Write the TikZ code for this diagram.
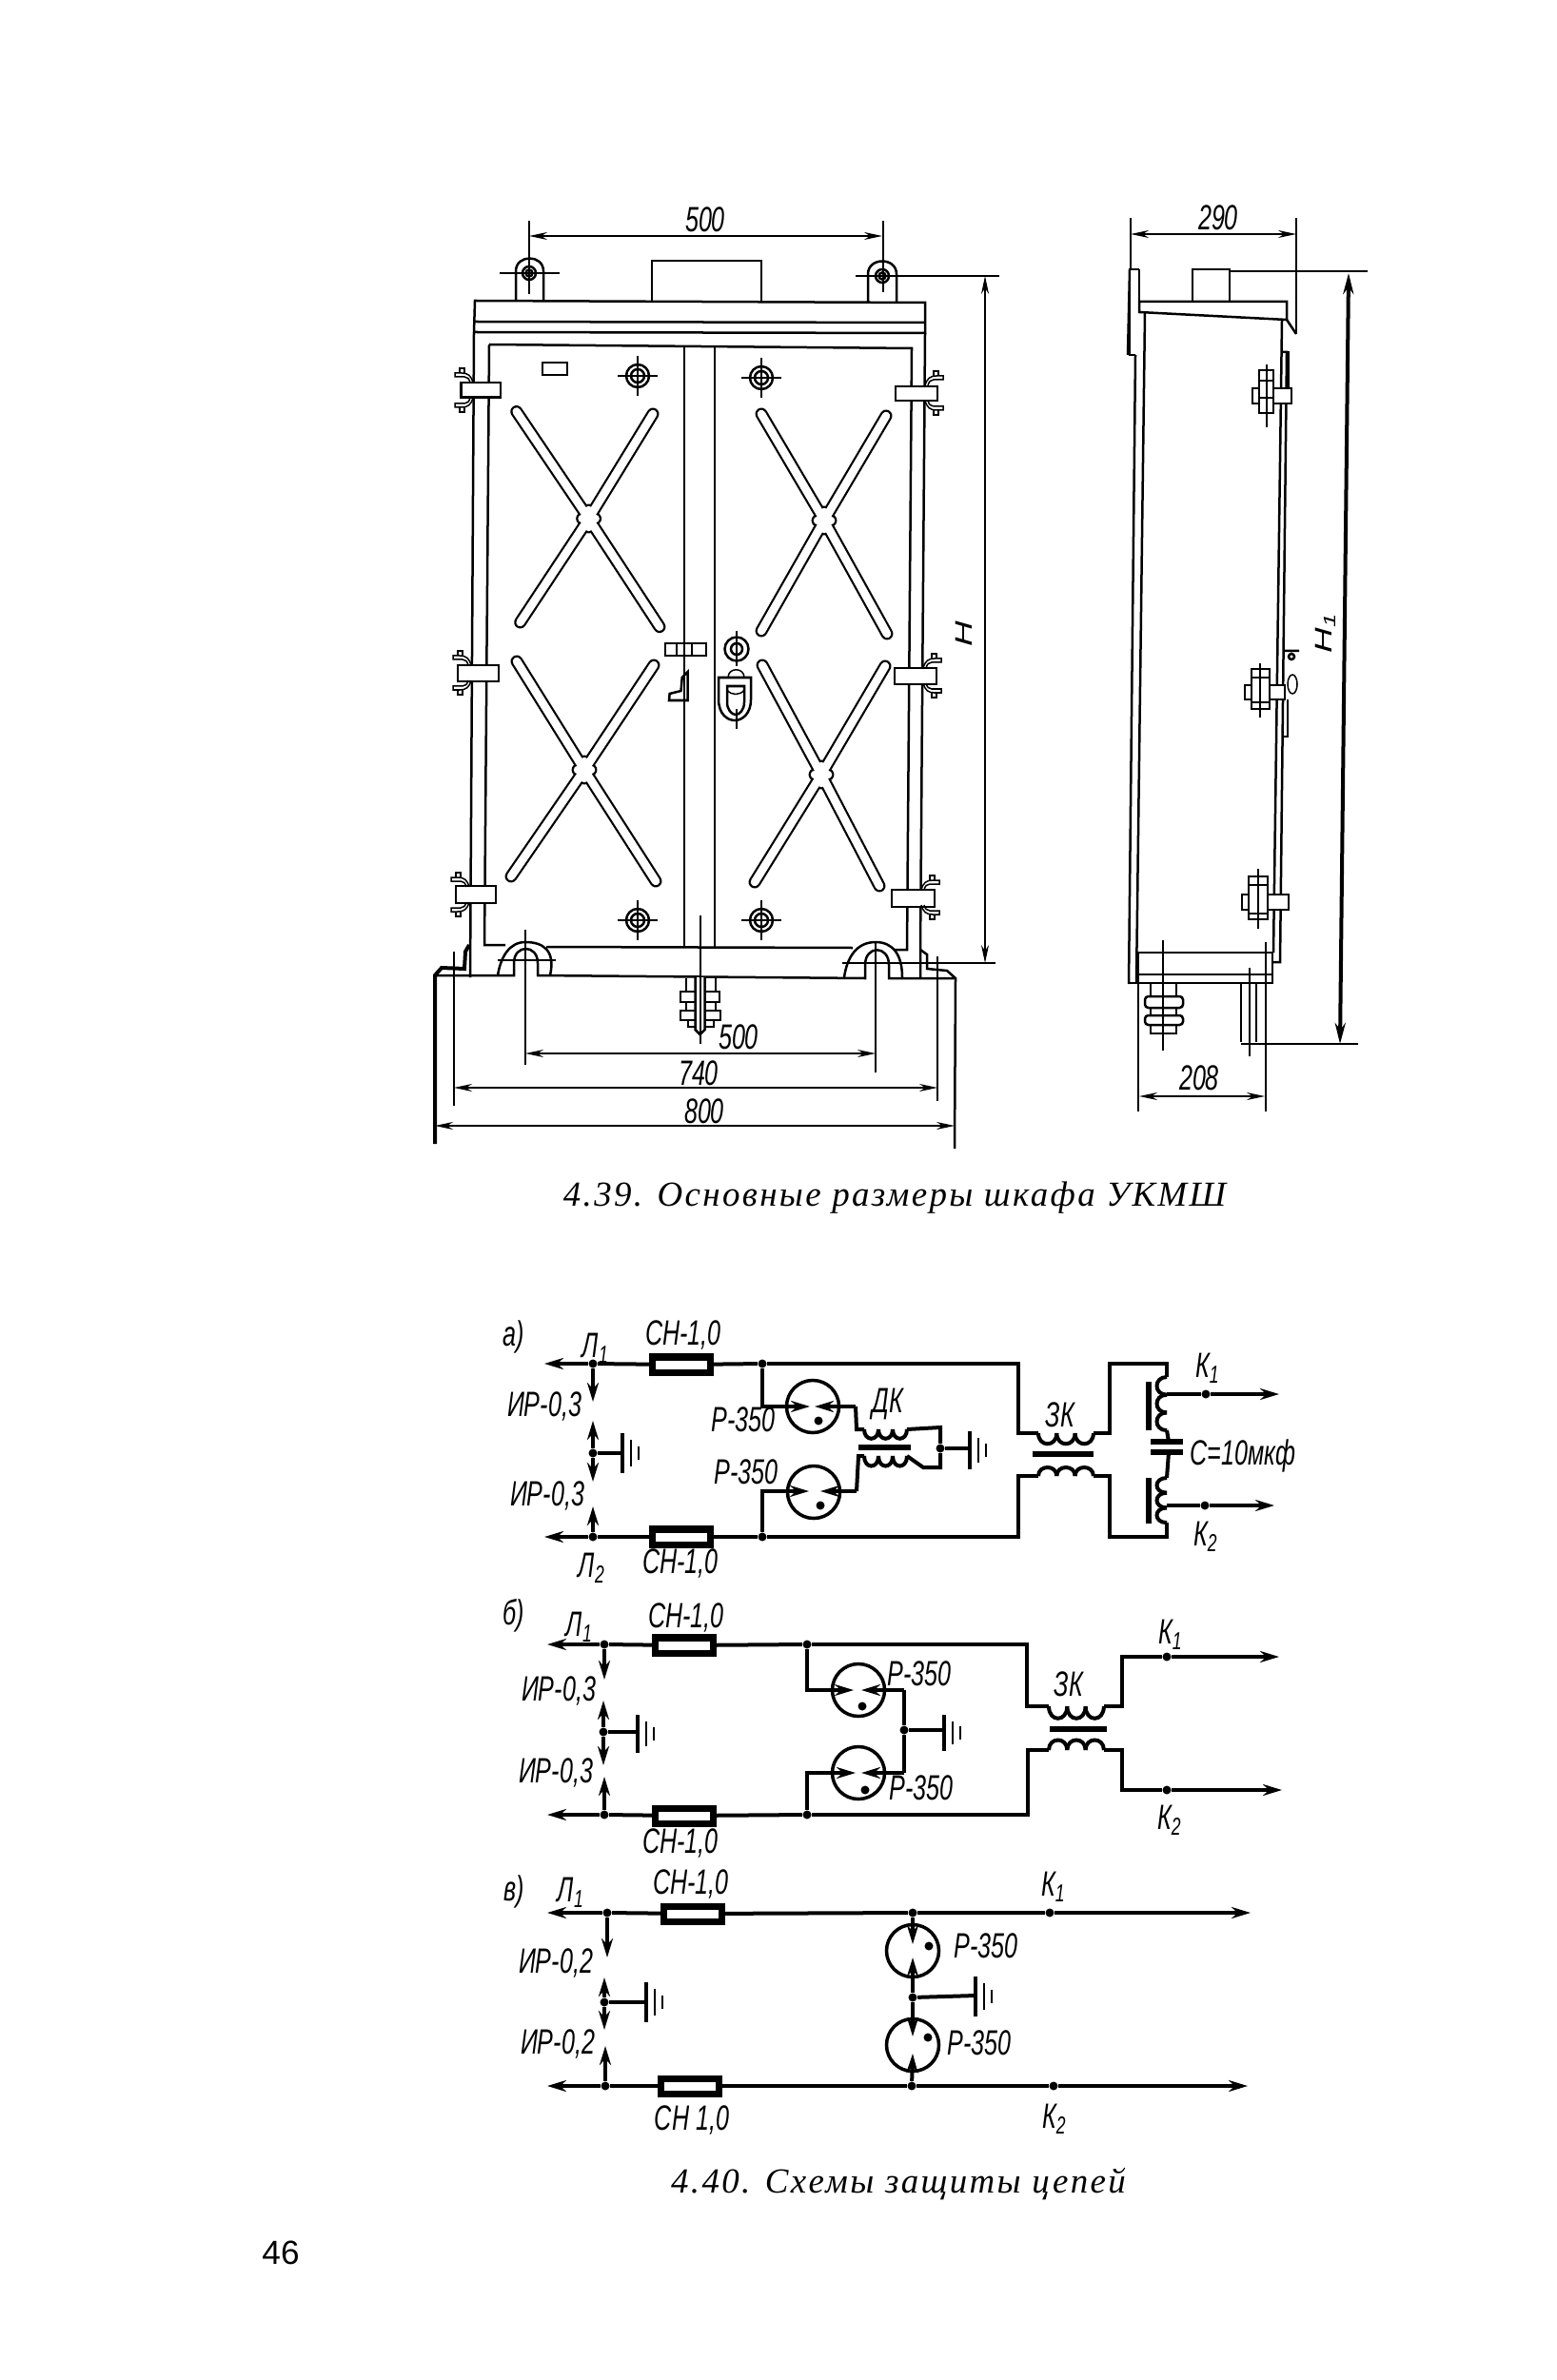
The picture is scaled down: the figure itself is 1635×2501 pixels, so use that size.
\documentclass[tikz,border=0pt]{standalone}
\usepackage{fontspec}
\setmainfont{Liberation Serif}
\setsansfont{Liberation Sans}
\newfontfamily\capfont[LetterSpace=6.4]{Liberation Serif}
\usetikzlibrary{arrows.meta}
\tikzset{
  body/.style={line width=.25mm},
  hair/.style={line width=.15mm},
  wire/.style={line width=.4mm},
  bar/.style={line width=.6mm},
  arrwire/.style={wire,-{Stealth[length=2mm,width=1.2mm]}},
  dimline/.style={hair,{Stealth[length=1.9mm,width=.8mm]}-{Stealth[length=1.9mm,width=.8mm]}},
  dot/.style={circle,fill,inner sep=0pt,minimum size=.9mm},
  fuse/.style={rectangle,draw,fill=white,line width=2pt,inner sep=0pt,minimum width=6.1mm,minimum height=1.6mm},
  arrest/.style={circle,draw,line width=.35mm,inner sep=0pt,minimum size=5.5mm},
  lbl/.style={font=\sffamily\itshape\fontsize{10.5}{12}\selectfont,xscale=.68,inner sep=0pt},
  captxt/.style={font=\capfont\itshape\fontsize{10.5}{13}\selectfont,inner sep=0pt},
}
% mounting bolt seen from the front
\newcommand{\target}[2]{
  \draw[body] (#1,#2) circle[radius=12] (#1,#2) circle[radius=7];
  \draw[hair] (#1-21,#2) -- (#1+21,#2) (#1,#2-21) -- (#1,#2+21);
}
% clamp and its two wing screws, #5 = side
\newcommand{\hinge}[7]{
  \draw[body,fill=white] (#1,#2) rectangle (#3,#4);
  \begin{scope}[shift={(#5,#6)},xscale=#7,hair]
  \foreach \s in {1,-1}{
    \draw (0,-8*\s) .. controls (-2,-15*\s) and (-5,-18*\s) .. (-12,-18*\s) -- (-19,-18*\s) -- (-19,-14*\s) -- (-9,-14*\s) .. controls (-6,-14*\s) and (-4,-12*\s) .. (-3,-8*\s);
    \draw (-14,-18*\s) -- (-14,-23*\s) -- (-9,-23*\s) -- (-9,-18*\s);
  }
  \end{scope}
}
% slotted cross on a door
\newcommand{\slotx}[5]{
  \draw[line width=.22mm,double=white,double distance=.85mm,line cap=round]
    (#1) -- (#2) (#1) -- (#3) (#1) -- (#4) (#1) -- (#5)
    ([xshift=-.7mm]#1) -- ([xshift=.7mm]#1) ([yshift=-.9mm]#1) -- ([yshift=.9mm]#1);
}
% earth symbol
\newcommand{\earth}[3]{
  \draw[wire] (#1,#2-#3) -- (#1,#2+#3);
  \draw[body] (#1+9,#2-.65*#3) -- (#1+9,#2+.65*#3);
  \draw[body] (#1+17,#2-.35*#3) -- (#1+17,#2+.35*#3);
}
% winding, three bumps
\newcommand{\coilh}[4]{
  \foreach \k in {0,1,2}
    \draw[wire] (#1+\k*#3,#2) .. controls (#1+\k*#3,#2+#4) and (#1+\k*#3+#3,#2+#4) .. (#1+\k*#3+#3,#2);
}
\newcommand{\coilv}[4]{
  \foreach \k in {0,1,2}
    \draw[wire] (#1,#2+\k*#3) .. controls (#1-#4,#2+\k*#3) and (#1-#4,#2+\k*#3+#3) .. (#1,#2+\k*#3+#3);
}
\begin{document}
\begin{tikzpicture}[x=.01cm,y=-.01cm]
\useasboundingbox (0,0) rectangle (1635,2501);
% cabinet, front
\draw[body] (499,316) -- (972,318) -- (972,350) -- (498,349) -- cycle;
\draw[body] (498,338) -- (972,339);
\draw[body] (498,350) -- (494,1027);
\draw[body] (972,350) -- (967,998) -- (967,1027);
\draw[body] (514,362) -- (958,366) -- (953,998) -- (940,998);
\draw[body] (514,362) -- (509,993) -- (531,993);
\draw[body] (574,995) -- (896,996);
\draw[body] (719,365) -- (719,996);
\draw[body] (751,365) -- (751,996);
\draw[body] (542,317) -- (542,285) .. controls (542,267) and (571,267) .. (571,285) -- (571,317);
\draw[body] (912,317) -- (912,288) .. controls (912,270) and (942,270) .. (942,288) -- (942,317);
\draw[body] (556,287) circle[radius=7] (556,287) circle[radius=3.5];
\draw[body] (927,290) circle[radius=7] (927,290) circle[radius=3.5];
\draw[hair] (525,287) -- (588,287);
\draw[body] (685,317) -- (685,274) -- (800,274) -- (800,317);
\draw[body] (570,381) rectangle (596,394);
\target{670}{395}
\target{800}{397}
\target{670}{967}
\target{800}{967}
\coordinate (xa) at (618.6,545);
\coordinate (xb) at (866,547);
\coordinate (xc) at (614,809);
\coordinate (xd) at (863,814);
\slotx{xa}{542.7,432.5}{686,435}{546.6,654}{693,658.7}
\slotx{xb}{800,435}{931,437}{800,663}{932,666}
\slotx{xc}{543,695}{687,699}{537,921}{689,926}
\slotx{xd}{801,699}{930,700}{793,927}{924,931}
\hinge{484.5}{402}{526}{417.5}{497}{410}{1}
\hinge{481}{699}{524}{716}{495}{707}{1}
\hinge{479}{931}{521}{949}{493}{940}{1}
\hinge{941}{406}{985}{421}{972}{413}{-1}
\hinge{940}{702}{984}{719}{970}{710}{-1}
\hinge{937}{935}{982}{953}{968}{943}{-1}
% latch and lock
\draw[body,fill=white] (699,676) rectangle (742,689);
\draw[body] (711,676) -- (711,689) (727,676) -- (727,689) (719,676) -- (719,689);
\draw[body] (722.6,706) -- (716.7,712) -- (715.5,726) -- (703.6,729) -- (703,736) -- (722.6,736) -- cycle;
\draw[body] (774,682) circle[radius=12.5] (774,682) circle[radius=6];
\draw[hair] (774,663) -- (774,700) (774,745) -- (774,766);
\draw[body] (755,712) -- (789,712) -- (789,735) .. controls (789,750) and (780,757) .. (772,757) .. controls (764,757) and (755,750) .. (755,735) -- cycle;
\draw[body] (764,721) -- (782,721) -- (782,738) .. controls (782,746) and (777,751) .. (773,751) .. controls (769,751) and (764,746) .. (764,738) -- cycle;
\draw[hair] (765,712) .. controls (765,701) and (782,701) .. (782,712);
\draw[hair] (764,725) .. controls (768,731) and (778,731) .. (782,725);
% base with lifting feet
\draw[wire] (457,1202) -- (457,1025) -- (464,1017) -- (488,1018) -- (489,1000) -- (493,993);
\draw[body] (457,1025) -- (540,1025) -- (540,1012) .. controls (540,992) and (565,992) .. (565,1012) -- (565,1025) -- (909,1028) -- (909,1014) .. controls (909,993) and (934,993) .. (934,1014) -- (934,1028) -- (1004,1028);
\draw[body] (523,1025) .. controls (526,1006) and (535,990) .. (552,990) .. controls (570,990) and (584,998) .. (578,1025);
\draw[body] (887,1027) .. controls (890,1006) and (900,990) .. (920,990) .. controls (938,990) and (948,1003) .. (948,1027);
\draw[body] (967,998) -- (974,1003) -- (974,1018) -- (995,1020) -- (1004,1028) -- (1003,1207);
\draw[hair] (523,1009) -- (584,1009);
\draw[body] (721,1028) -- (721,1042) (752,1028) -- (752,1042) (721,1053) -- (721,1062) (752,1053) -- (752,1062);
\draw[body] (723,1072) -- (723,1079) -- (750,1079) -- (750,1072);
\draw[body,fill=white] (715,1042) rectangle (756,1053);
\draw[body,fill=white] (715,1062) rectangle (757,1072);
\draw[body,fill=white] (730.5,1027) -- (730.5,1082) -- (735.5,1087) -- (740.5,1082) -- (740.5,1027);
\draw[hair] (736,962) -- (736,1097);
% dimensions, front
\coordinate (d1a) at (556,248);
\coordinate (d1b) at (927,248);
\draw[dimline] (d1a) -- (d1b);
\node[lbl] (t500a) at (741,231) {500};
\draw[hair] (556,232) -- (556,309) (928,232) -- (928,307);
\draw[hair] (899,290) -- (1050,290);
\coordinate (dha) at (1035,290);
\coordinate (dhb) at (1035,1012);
\draw[dimline] (dha) -- (dhb);
\draw[hair] (885,1012) -- (1046,1012);
\node[lbl,rotate=90] (th) at (1013,666) {H};
\draw[hair] (552,977) -- (552,1119) (920,990) -- (920,1127);
\draw[hair] (477,1000) -- (477,1162) (985,1005) -- (985,1157);
\coordinate (d2a) at (552,1107);
\coordinate (d2b) at (920,1107);
\draw[dimline] (d2a) -- (d2b);
\node[lbl] (t500b) at (776,1090) {500};
\coordinate (d3a) at (477,1143);
\coordinate (d3b) at (985,1143);
\draw[dimline] (d3a) -- (d3b);
\node[lbl] (t740) at (734,1128) {740};
\coordinate (d4a) at (457,1183);
\coordinate (d4b) at (1003,1183);
\draw[dimline] (d4a) -- (d4b);
\node[lbl] (t800) at (740,1168) {800};
% cabinet, side
\draw[body] (1197,283) -- (1187,283) -- (1187,373) -- (1193,373);
\draw[body] (1197,283) -- (1197,317);
\draw[body] (1187,283) -- (1185,373);
\draw[body] (1197,317) -- (1352,317) -- (1352,336) -- (1197,328) -- cycle;
\draw[body] (1352,336) -- (1362,351);
\draw[hair] (1362,229) -- (1362,351);
\draw[hair] (1188,229) -- (1188,283);
\draw[body] (1253,317) -- (1253,283) -- (1292,283) -- (1292,317);
\draw[hair] (1292,285) -- (1437,285);
\draw[body] (1193,373) -- (1186,1034);
\draw[body] (1203,328) -- (1194,1033);
\draw[body] (1185,1033) -- (1337,1033) -- (1337,1001);
\draw[hair] (1195,1001) -- (1337,1001) (1195,1024) -- (1337,1024);
\draw[body] (1337,1011) -- (1345,1011) -- (1352,370) -- (1347,370);
\draw[body] (1347,336) -- (1338,1001);
\draw[body] (1352,370) -- (1354,370) -- (1354,408);
\draw[body,fill=white] (1316,408) rectangle (1357,424);
\draw[body,fill=white] (1323,389) rectangle (1338,434);
\draw[hair] (1323,400) -- (1338,400) (1323,418) -- (1338,418) (1331,383) -- (1331,449);
\draw[body,fill=white] (1308,720) rectangle (1350,735);
\draw[body,fill=white] (1315,703) rectangle (1334,745);
\draw[hair] (1315,712) -- (1334,712) (1315,738) -- (1334,738) (1324,697) -- (1324,754);
\draw[body,fill=white] (1305,940) rectangle (1354,956);
\draw[body,fill=white] (1312,921) rectangle (1332,966);
\draw[hair] (1312,930) -- (1332,930) (1312,960) -- (1332,960) (1322,913) -- (1322,976);
\draw[body] (1350,684) -- (1365,684) (1357,690) circle[radius=3];
\draw[hair] (1358,719) ellipse[x radius=5,y radius=10];
\draw[body] (1353,735) -- (1353,774) -- (1349,774);
% bolt and leg, side
\draw[body] (1209,1033) -- (1209,1047) (1236,1033) -- (1236,1047);
\draw[body,rounded corners=1pt] (1203,1047) rectangle (1243,1059);
\draw[body] (1209,1059) -- (1209,1067) (1236,1059) -- (1236,1067);
\draw[body,rounded corners=1pt] (1203,1067) rectangle (1243,1077);
\draw[body] (1209,1077) -- (1209,1086) -- (1236,1086) -- (1236,1077);
\draw[hair] (1222,988) -- (1222,1104);
\draw[body] (1304,1033) -- (1304,1095) (1320,1033) -- (1320,1095);
\draw[hair] (1313,1017) -- (1313,1110);
\draw[body] (1330,990) -- (1330,1168);
\draw[body] (1196,1001) -- (1196,1168);
\coordinate (d5a) at (1197,1152);
\coordinate (d5b) at (1329,1152);
\draw[dimline] (d5a) -- (d5b);
\node[lbl] (t208) at (1260,1133) {208};
\coordinate (d6a) at (1188,246);
\coordinate (d6b) at (1362,246);
\draw[dimline] (d6a) -- (d6b);
\node[lbl] (t290) at (1280,229) {290};
\coordinate (d7a) at (1417,287);
\coordinate (d7b) at (1408,1097);
\draw[wire,{Stealth[length=2.2mm,width=1.1mm]}-{Stealth[length=2.2mm,width=1.1mm]}] (d7a) -- (d7b);
\draw[hair] (1304,1097) -- (1427,1097);
\node[lbl,rotate=90] (th1) at (1393,665) {H\textsubscript{1}};
\node[captxt] (c39) at (940,1259) {4.39. Основные размеры шкафа УКМШ};
% scheme a
\node[lbl] (ta) at (540,1405) {а)};
\node[fuse] (af1) at (716,1434) {};
\node[fuse] (af2) at (716,1615) {};
\node[dot] (aj1) at (623,1433) {};
\node[dot] (aj2) at (623,1615) {};
\node[dot] (aj3) at (623,1527) {};
\node[dot] (aj4) at (801,1433) {};
\node[dot] (aj5) at (801,1615) {};
\node[dot] (aj6) at (988,1522) {};
\node[arrest] (ar1) at (854,1478) {};
\node[arrest] (ar2) at (855,1568) {};
\node[dot] (ad1) at (860,1493) {};
\node[dot] (ad2) at (862,1582) {};
\node[dot] (ak1) at (1267,1465) {};
\node[dot] (ak2) at (1266,1582) {};
\coordinate (ae1) at (572,1433);
\coordinate (ae2) at (572,1615);
\coordinate (ae3) at (1344,1465);
\coordinate (ae4) at (1339,1582);
\draw[arrwire] (aj1) -- (ae1);
\draw[arrwire] (aj2) -- (ae2);
\draw[wire] (aj1) -- (af1);
\draw[wire] (aj2) -- (af2);
\draw[wire] (af1) -- (aj4);
\draw[wire] (af2) -- (aj5);
\coordinate (ar) at (623,1473);
\draw[arrwire] (aj1) -- (ar);
\coordinate (ar) at (623,1493);
\draw[arrwire] (aj3) -- (ar);
\coordinate (ar) at (623,1557);
\draw[arrwire] (aj3) -- (ar);
\coordinate (ar) at (623,1583);
\draw[arrwire] (aj2) -- (ar);
\coordinate (ag1) at (654,1527);
\draw[wire] (aj3) -- (ag1);
\earth{654}{1527}{21}
\coordinate (ap1) at (851,1478);
\coordinate (ap2) at (856,1478);
\coordinate (ap3) at (850,1567);
\coordinate (ap4) at (862,1567);
\draw[arrwire] (aj4) |- (ap1);
\draw[arrwire] (aj5) |- (ap3);
\coordinate (aw1) at (899,1478);
\coordinate (aw2) at (900,1567);
\draw[arrwire] (aw1) -- (ap2);
\draw[arrwire] (aw2) -- (ap4);
\coordinate (aw3) at (900,1502);
\coordinate (aw4) at (908,1502);
\coordinate (aw5) at (902,1530);
\coordinate (aw6) at (908,1530);
\draw[wire] (aw1) -- (aw3) -- (aw4);
\draw[wire] (aw2) -- (aw5) -- (aw6);
\coilh{908}{1502}{15}{13}
\coilh{908}{1530}{15}{14}
\draw[bar] (902,1521) -- (957,1521);
\coordinate (aw7) at (953,1502);
\coordinate (aw8) at (953,1530);
\draw[wire] (aw7) -- (988,1500) -- (aj6);
\draw[wire] (aw8) -- (970,1542) -- (988,1542) -- (aj6);
\coordinate (ag2) at (1019,1522);
\draw[wire] (aj6) -- (ag2);
\earth{1019}{1524}{20}
\coordinate (an1) at (1070,1433);
\coordinate (an2) at (1070,1506);
\coordinate (an3) at (1091,1506);
\coordinate (an4) at (1149,1506);
\coordinate (an5) at (1166,1506);
\coordinate (an6) at (1166,1433);
\coordinate (an7) at (1226,1433);
\coordinate (an8) at (1226,1447);
\draw[wire] (aj4) -- (an1) -- (an2) -- (an3);
\draw[wire] (an4) -- (an5) -- (an6) -- (an7) -- (an8);
\coilh{1091}{1506}{19.3}{15}
\draw[bar] (1085,1528) -- (1149,1528);
\coordinate (am1) at (1070,1551);
\coordinate (am2) at (1091,1551);
\coordinate (am3) at (1149,1551);
\coordinate (am4) at (1166,1551);
\coordinate (am5) at (1166,1615);
\coordinate (am6) at (1226,1615);
\coordinate (am7) at (1226,1600);
\draw[wire] (aj5) -- (1070,1615) -- (am1) -- (am2);
\draw[wire] (am3) -- (am4) -- (am5) -- (am6) -- (am7);
\coilh{1091}{1551}{19.3}{-12}
\coilv{1226}{1447}{18.7}{14}
\coilv{1226}{1553}{15.7}{14}
\draw[bar] (1207,1452) -- (1207,1503);
\draw[bar] (1207,1553) -- (1207,1601);
\draw[bar] (1209,1515) -- (1243,1515);
\draw[bar] (1209,1526) -- (1243,1526);
\coordinate (ao1) at (1226,1503);
\coordinate (ao2) at (1228,1515);
\coordinate (ao3) at (1228,1526);
\coordinate (ao4) at (1226,1553);
\coordinate (ao5) at (1226,1465);
\coordinate (ao6) at (1226,1582);
\draw[wire] (ao1) -- (ao2);
\draw[wire] (ao3) -- (ao4);
\draw[wire] (ao5) -- (ak1);
\draw[wire] (ao6) -- (ak2);
\draw[arrwire] (ak1) -- (ae3);
\draw[arrwire] (ak2) -- (ae4);
\node[lbl] (tal1) at (626,1417) {Л\textsubscript{1}};
\node[lbl] (tal2) at (622,1648) {Л\textsubscript{2}};
\node[lbl] (tacn1) at (718,1403) {СН-1,0};
\node[lbl] (tacn2) at (715,1643) {СН-1,0};
\node[lbl] (tair1) at (572,1478) {ИР-0,3};
\node[lbl] (tair2) at (575,1572) {ИР-0,3};
\node[lbl] (tar1) at (781,1492) {Р-350};
\node[lbl] (tar2) at (784,1547) {Р-350};
\node[lbl] (tadk) at (933,1475) {ДК};
\node[lbl] (tazk) at (1114,1487) {ЗК};
\node[lbl] (tak1) at (1269,1438) {К\textsubscript{1}};
\node[lbl] (tak2) at (1267,1615) {К\textsubscript{2}};
\node[lbl] (tac) at (1306,1530) {С=10мкф};
% scheme b
\node[lbl] (tb) at (540,1698) {б)};
\node[fuse] (bf1) at (719,1729) {};
\node[fuse] (bf2) at (719,1908) {};
\node[dot] (bj1) at (635,1728) {};
\node[dot] (bj2) at (635,1907) {};
\node[dot] (bj3) at (634,1820) {};
\node[dot] (bj4) at (848,1728) {};
\node[dot] (bj5) at (848,1907) {};
\node[dot] (bj6) at (950,1818) {};
\node[arrest] (br1) at (902,1776) {};
\node[arrest] (br2) at (902,1863) {};
\node[dot] (bd1) at (906,1793) {};
\node[dot] (bd2) at (909,1881) {};
\node[dot] (bk1) at (1226,1741) {};
\node[dot] (bk2) at (1226,1881) {};
\coordinate (be1) at (575,1728);
\coordinate (be2) at (575,1907);
\coordinate (be3) at (1344,1741);
\coordinate (be4) at (1347,1881);
\draw[arrwire] (bj1) -- (be1);
\draw[arrwire] (bj2) -- (be2);
\draw[wire] (bj1) -- (bf1);
\draw[wire] (bj2) -- (bf2);
\draw[wire] (bf1) -- (bj4);
\draw[wire] (bf2) -- (bj5);
\coordinate (br) at (635,1765);
\draw[arrwire] (bj1) -- (br);
\coordinate (br) at (634,1787);
\draw[arrwire] (bj3) -- (br);
\coordinate (br) at (634,1855);
\draw[arrwire] (bj3) -- (br);
\coordinate (br) at (635,1867);
\draw[arrwire] (bj2) -- (br);
\coordinate (bg1) at (670,1820);
\draw[wire] (bj3) -- (bg1);
\earth{670}{1822}{20}
\coordinate (bp1) at (897,1776);
\coordinate (bp2) at (905,1776);
\coordinate (bp3) at (899,1863);
\coordinate (bp4) at (905,1863);
\draw[arrwire] (bj4) |- (bp1);
\draw[arrwire] (bj5) |- (bp3);
\coordinate (bw1) at (950,1776);
\coordinate (bw2) at (950,1863);
\draw[arrwire] (bw1) -- (bp2);
\draw[arrwire] (bw2) -- (bp4);
\draw[wire] (bw1) -- (bj6);
\draw[wire] (bw2) -- (bj6);
\coordinate (bg2) at (992,1818);
\draw[wire] (bj6) -- (bg2);
\earth{992}{1821}{19}
\coordinate (bn1) at (1079,1728);
\coordinate (bn2) at (1079,1793);
\coordinate (bn3) at (1102,1793);
\coordinate (bn4) at (1160,1793);
\coordinate (bn5) at (1179,1793);
\coordinate (bn6) at (1179,1741);
\draw[wire] (bj4) -- (bn1) -- (bn2) -- (bn3);
\draw[wire] (bn4) -- (bn5) -- (bn6) -- (bk1);
\coilh{1102}{1793}{19.3}{17}
\draw[bar] (1103,1817) -- (1163,1817);
\coordinate (bm1) at (1080,1839);
\coordinate (bm2) at (1102,1839);
\coordinate (bm3) at (1160,1839);
\coordinate (bm4) at (1179,1839);
\coordinate (bm5) at (1179,1881);
\draw[wire] (bj5) -- (1080,1907) -- (bm1) -- (bm2);
\draw[wire] (bm3) -- (bm4) -- (bm5) -- (bk2);
\coilh{1102}{1839}{19.3}{-14}
\draw[arrwire] (bk1) -- (be3);
\draw[arrwire] (bk2) -- (be4);
\node[lbl] (tbl1) at (609,1710) {Л\textsubscript{1}};
\node[lbl] (tbcn1) at (721,1700) {СН-1,0};
\node[lbl] (tbcn2) at (715,1937) {СН-1,0};
\node[lbl] (tbir1) at (587,1777) {ИР-0,3};
\node[lbl] (tbir2) at (584,1863) {ИР-0,3};
\node[lbl] (tbr1) at (966,1759) {Р-350};
\node[lbl] (tbr2) at (968,1879) {Р-350};
\node[lbl] (tbzk) at (1123,1770) {ЗК};
\node[lbl] (tbk1) at (1230,1718) {К\textsubscript{1}};
\node[lbl] (tbk2) at (1229,1913) {К\textsubscript{2}};
% scheme c
\node[lbl] (tc) at (540,1988) {в)};
\node[fuse] (cf1) at (728,2011) {};
\node[fuse] (cf2) at (725,2192) {};
\node[dot] (cj1) at (638,2010) {};
\node[dot] (cj2) at (636,2192) {};
\node[dot] (cj3) at (635,2104) {};
\node[dot] (cj4) at (959,2010) {};
\node[dot] (cj5) at (958,2192) {};
\node[dot] (cj6) at (959,2099) {};
\node[dot] (ck1) at (1103,2010) {};
\node[dot] (ck2) at (1107,2192) {};
\node[arrest] (cr1) at (959,2050) {};
\node[arrest] (cr2) at (959,2149) {};
\node[dot] (cd1) at (976,2045) {};
\node[dot] (cd2) at (975,2141) {};
\coordinate (ce1) at (575,2010);
\coordinate (ce2) at (575,2192);
\coordinate (ce3) at (1314,2010);
\coordinate (ce4) at (1311,2192);
\draw[arrwire] (cj1) -- (ce1);
\draw[arrwire] (cj2) -- (ce2);
\draw[wire] (cj1) -- (cf1);
\draw[wire] (cj2) -- (cf2);
\draw[wire] (cf1) -- (cj4) -- (ck1);
\draw[wire] (cf2) -- (cj5) -- (ck2);
\draw[arrwire] (ck1) -- (ce3);
\draw[arrwire] (ck2) -- (ce4);
\coordinate (cr) at (638,2057);
\draw[arrwire] (cj1) -- (cr);
\coordinate (cr) at (635,2078);
\draw[arrwire] (cj3) -- (cr);
\coordinate (cr) at (635,2133);
\draw[arrwire] (cj3) -- (cr);
\coordinate (cr) at (636,2150);
\draw[arrwire] (cj2) -- (cr);
\coordinate (cg1) at (679,2104);
\draw[wire] (cj3) -- (cg1);
\earth{679}{2104}{21}
\coordinate (cr) at (959,2043);
\draw[arrwire] (cj4) -- (cr);
\coordinate (cr) at (959,2057);
\draw[arrwire] (cj6) -- (cr);
\coordinate (cr) at (959,2140);
\draw[arrwire] (cj6) -- (cr);
\coordinate (cr) at (959,2158);
\draw[arrwire] (cj5) -- (cr);
\coordinate (cg2) at (1025,2097);
\draw[wire] (cj6) -- (cg2);
\earth{1025}{2098}{21}
\node[lbl] (tcl1) at (600,1989) {Л\textsubscript{1}};
\node[lbl] (tccn1) at (726,1980) {СН-1,0};
\node[lbl] (tccn2) at (727,2228) {СН 1,0};
\node[lbl] (tcir1) at (584,2063) {ИР-0,2};
\node[lbl] (tcir2) at (586,2148) {ИР-0,2};
\node[lbl] (tcr1) at (1036,2045) {Р-350};
\node[lbl] (tcr2) at (1029,2147) {Р-350};
\node[lbl] (tck1) at (1107,1983) {К\textsubscript{1}};
\node[lbl] (tck2) at (1108,2227) {К\textsubscript{2}};
\node[captxt] (c40) at (944,2295) {4.40. Схемы защиты цепей};
\node[font=\sffamily\fontsize{10}{12}\selectfont,inner sep=0pt] (pg) at (295,2367) {46};
\end{tikzpicture}
\end{document}
